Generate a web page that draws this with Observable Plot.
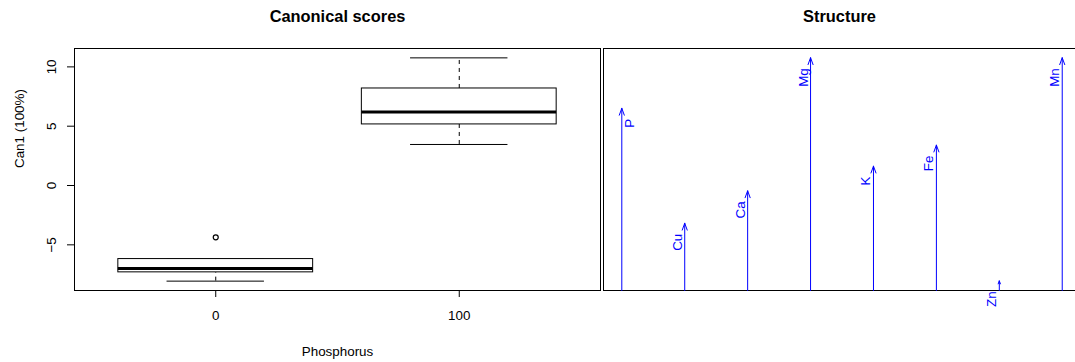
<!DOCTYPE html>
<html>
<head>
<meta charset="utf-8">
<script src="https://cdn.jsdelivr.net/npm/d3@7"></script>
<script src="https://cdn.jsdelivr.net/npm/@observablehq/plot@0.6"></script>
<style>
  html, body { margin: 0; padding: 0; background: #fff; }
  #row { display: flex; width: 1075px; height: 362px; overflow: hidden; }
  #row svg { display: block; }
</style>
</head>
<body>
<div id="row"><div id="scores"></div><div id="structure"></div></div>
<script>
// Canonical scores by phosphorus level (box-plot summaries)
const groups = ["0", "100"];
const lowerWhisker = [-8.06, 3.46];
const q1 = [-7.32, 5.15];
const median = [-6.99, 6.19];
const q3 = [-6.20, 8.18];
const upperWhisker = [-6.20, 10.76];
const outlierGroup = ["0"];
const outlierValue = [-4.37];
const yTicks = [-5, 0, 5, 10];

// Structure coefficients of each nutrient on Can1
const variables = ["P", "Cu", "Ca", "Mg", "K", "Fe", "Zn", "Mn"];
const structure = [0.753, 0.278, 0.412, 0.962, 0.514, 0.601, 0.040, 0.962];

const font = "'Liberation Sans', Arial, Helvetica, sans-serif";
const style = { fontFamily: font, fontSize: "13.4px", color: "black", background: "white", overflow: "visible" };

const boxes = groups.map((g, i) => ({
  group: g, pos: i + 1,
  lo: lowerWhisker[i], q1: q1[i], median: median[i], q3: q3[i], hi: upperWhisker[i]
}));
const outliers = outlierGroup.map((g, i) => ({ pos: groups.indexOf(g) + 1, value: outlierValue[i] }));
const half = 0.4, cap = 0.2;

const scores = Plot.plot({
  width: 602, height: 362,
  marginLeft: 74, marginRight: 2, marginTop: 48, marginBottom: 72,
  style,
  x: { domain: [0.42, 2.58] },
  y: { domain: [-8.85, 11.55] },
  marks: [
    Plot.ruleX(boxes, { x: "pos", y1: "q3", y2: "hi", stroke: "black", strokeDasharray: "4,4" }),
    Plot.ruleX(boxes, { x: "pos", y1: "lo", y2: "q1", stroke: "black", strokeDasharray: "4,4" }),
    Plot.ruleY(boxes, { y: "hi", x1: d => d.pos - cap, x2: d => d.pos + cap, stroke: "black" }),
    Plot.ruleY(boxes, { y: "lo", x1: d => d.pos - cap, x2: d => d.pos + cap, stroke: "black" }),
    Plot.rect(boxes, { x1: d => d.pos - half, x2: d => d.pos + half, y1: "q1", y2: "q3", fill: "white", stroke: "black" }),
    Plot.ruleY(boxes, { y: "median", x1: d => d.pos - half, x2: d => d.pos + half, stroke: "black", strokeWidth: 3 }),
    Plot.dot(outliers, { x: "pos", y: "value", r: 2.5, stroke: "black", strokeWidth: 1.2 }),
    Plot.frame({ stroke: "black" }),
    Plot.axisY({ ticks: yTicks, tickSize: 7, tickRotate: -90, tickPadding: 12, label: null }),
    Plot.axisX({ ticks: boxes.map(d => d.pos), tickFormat: p => groups[p - 1], tickSize: 7, tickPadding: 13, label: null }),
    Plot.text(["Phosphorus"], { text: d => d, frameAnchor: "bottom", lineAnchor: "bottom", dy: 65 }),
    Plot.text(["Can1 (100%)"], { text: d => d, frameAnchor: "left", rotate: -90, lineAnchor: "bottom", dx: -51, dy: -1.5 }),
    Plot.text(["Canonical scores"], { text: d => d, frameAnchor: "top", lineAnchor: "bottom", dy: -27, fontWeight: "bold", fontSize: 16.4 })
  ]
});

const arrows = variables.map((v, i) => ({ variable: v, pos: i + 1, value: structure[i] }));

const structurePlot = Plot.plot({
  width: 473, height: 362,
  marginLeft: 1, marginRight: 0, marginTop: 48, marginBottom: 72,
  style,
  x: { domain: [0.709, 8.211], axis: null },
  y: { domain: [0, 1], axis: null },
  marks: [
    Plot.frame({ anchor: "top", stroke: "black" }),
    Plot.frame({ anchor: "left", stroke: "black" }),
    Plot.frame({ anchor: "bottom", stroke: "black" }),
    Plot.arrow(arrows, { x: "pos", y1: 0, y2: "value", stroke: "blue", strokeWidth: 1, headLength: 11, headAngle: 40 }),
    // the first label sits on the inner side of its arrow, the rest on the left
    Plot.text(arrows, { filter: (d, i) => i === 0, x: "pos", y: "value", text: "variable", rotate: -90, textAnchor: "end", dx: 7.7, dy: 10.5, fill: "blue" }),
    Plot.text(arrows, { filter: (d, i) => i > 0, x: "pos", y: "value", text: "variable", rotate: -90, textAnchor: "end", dx: -7.3, dy: 10.5, fill: "blue" }),
    Plot.text(["Structure"], { text: d => d, frameAnchor: "top", lineAnchor: "bottom", dy: -27, fontWeight: "bold", fontSize: 16.4 })
  ]
});

document.getElementById("scores").append(scores);
document.getElementById("structure").append(structurePlot);
</script>
</body>
</html>
